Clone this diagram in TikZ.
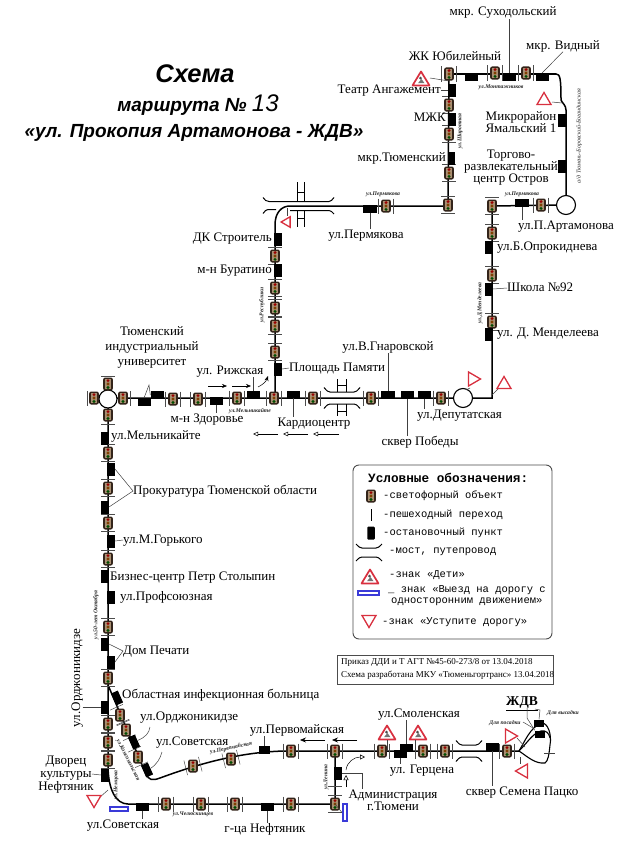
\documentclass[tikz,border=0pt]{standalone}
\usepackage{fontspec}
\setmainfont{Liberation Serif}
\setsansfont{Liberation Sans}
\setmonofont{Liberation Mono}
\usetikzlibrary{arrows.meta}
\definecolor{signred}{HTML}{D8303F}
\definecolor{signblue}{HTML}{3A3AD8}
\definecolor{lampbody}{HTML}{33241A}
\definecolor{lampface}{HTML}{A98F72}
\newcommand{\mybridge}[3]{%
  \draw[line width=1pt] ({#1-#3},{#2-10.5}) .. controls ({#1-#3+3},{#2-7}) and ({#1-#3+4},{#2-6}) .. ({#1-#3+6},{#2-6}) -- ({#1+#3-6},{#2-6}) .. controls ({#1+#3-4},{#2-6}) and ({#1+#3-3},{#2-7}) .. ({#1+#3},{#2-10.5});
  \draw[line width=1pt] ({#1-#3},{#2+10.5}) .. controls ({#1-#3+3},{#2+7}) and ({#1-#3+4},{#2+6}) .. ({#1-#3+6},{#2+6}) -- ({#1+#3-6},{#2+6}) .. controls ({#1+#3-4},{#2+6}) and ({#1+#3-3},{#2+7}) .. ({#1+#3},{#2+10.5});
}
\tikzset{
  x=1pt,y=-1pt,
  route/.style={line width=1.5pt,black},
  leader/.style={line width=0.5pt,black!75},
  lbl/.style={inner sep=0pt,font=\fontsize{13}{14}\selectfont,text height=8.5pt,text depth=2.5pt},
  tiny/.style={inner sep=0pt,font=\fontsize{5.7}{6}\selectfont\bfseries\itshape,text=black!85},
  stopv/.style={fill=black,draw=none,inner sep=0pt,minimum width=7.5pt,minimum height=13pt},
  stoph/.style={fill=black,draw=none,inner sep=0pt,minimum width=13pt,minimum height=7.5pt},
  legtext/.style={inner sep=0pt,anchor=west,font=\ttfamily\fontsize{10.5}{11}\selectfont},
  lampcore/.pic={
    \fill[lampbody,rounded corners=2pt] (-4.8,-6.5) rectangle (4.8,6.5);
    \fill[lampface] (-2.6,-5.4) rectangle (2.6,5.4);
    \fill[red!60!black] (0,-3.4) circle (1.6);
    \fill[orange!50!black] (0,0) circle (1.6);
    \fill[green!30!black] (0,3.4) circle (1.6);
  },
  lampv/.pic={
    \draw[line width=0.5pt,black!70] (-7,-8.5) -- (7,-8.5) (-7,8.5) -- (7,8.5);
    \pic {lampcore};
  },
  lamph/.pic={
    \draw[line width=0.5pt,black!70] (-7.5,-7.5) -- (-7.5,7.5) (7.5,-7.5) -- (7.5,7.5);
    \pic {lampcore};
  },
  yieldtri/.pic={
    \draw[signred,line width=1.3pt,fill=white,line join=miter] (0,-6.5) -- (7,5.5) -- (-7,5.5) -- cycle;
  },
  kidstri/.pic={
    \draw[signred,line width=1.7pt,fill=white,line join=round] (0,-7.5) -- (8.5,6.5) -- (-8.5,6.5) -- cycle;
    \fill[black!70] (-0.5,-0.8) circle (1.5);
    \fill[black!55] (-3,4.2) -- (0.5,0) -- (3.5,4.2) -- cycle;
  },
}
\begin{document}
\begin{tikzpicture}
\useasboundingbox (0,0) rectangle (632,851);
\fill[white] (0,0) rectangle (632,851);

% --- route corner coordinates
\coordinate (a1) at (449,74);
\coordinate (a2) at (556,74);
\coordinate (a3) at (561,100);
\coordinate (a4) at (566,110);
\coordinate (c1) at (566,205);
\coordinate (b1) at (492,206);
\coordinate (b2) at (492,398);
\coordinate (c2) at (463,398);
\coordinate (c3) at (108,398);
\coordinate (d1) at (108,765);
\coordinate (d2) at (128,804);
\coordinate (d3) at (335,804);
\coordinate (d4) at (335,751);
\coordinate (e1) at (108,685);
\coordinate (e2) at (146,774);
\coordinate (e3) at (285,751);
\coordinate (e4) at (519,751);
\coordinate (f1) at (448,206);
\coordinate (f2) at (290,206);
\coordinate (f3) at (275,225);
\coordinate (f4) at (275,398);

% --- bridges
\mybridge{342}{398}{18}
\mybridge{469}{751}{13}
\draw[line width=1pt] (263,197.5) .. controls (265,200) and (266,201.5) .. (269,201.5) -- (329,201.5) .. controls (331,201.5) and (332,200) .. (334,197.5);
\draw[line width=1pt] (263,213.5) .. controls (265,211) and (266,209.5) .. (268,209.5) -- (276,209.5);
\draw[line width=1pt] (290,210.5) -- (329,210.5) .. controls (331,210.5) and (332,212) .. (334,214);
\draw[line width=0.9pt] (297,182) -- (297,201) (304,182) -- (304,201) (297,192) -- (304,192);
\draw[line width=0.9pt] (297,211) -- (297,227) (304,211) -- (304,227) (297,218) -- (304,218);
\draw[line width=0.9pt] (337,379) -- (337,392) (346,379) -- (346,392) (337,385) -- (346,385);
\draw[line width=0.9pt] (337,404) -- (337,416) (346,404) -- (346,416) (337,411) -- (346,411);

% --- routes
\draw[route] (a1) -- (a2) .. controls (560,74) and (561,78) .. (a3) .. controls (562,103) and (566,105) .. (a4) -- (c1);
\draw[route] (c1) -- (b1) -- (b2) -- (c2) -- (c3);
\draw[route] (c3) -- (d1) .. controls (108,790) and (116,804) .. (d2) -- (d3) -- (d4);
\draw[route] (e1) -- (e2) .. controls (149,780) and (152,781) .. (160,778) .. controls (190,767) and (235,752) .. (e3) -- (e4);
\draw[route] (a1) -- (f1) -- (f2) .. controls (282,206) and (275,212) .. (f3) -- (f4);

% --- ЖДВ loop
\coordinate (j1) at (519,751);
\draw[line width=1.1pt] (j1) .. controls (525,741) and (530,728) .. (541,723) .. controls (548,722) and (552,735) .. (550,745) .. controls (549,755) and (548,761) .. (545,763) .. controls (535,764) and (528,757) .. (j1);
\draw[line width=1.1pt] (j1) .. controls (527,743) and (533,733) .. (541,731) .. controls (546,730) and (549,733) .. (550,738);
\draw[leader] (544,753) -- (555,753);
\draw[leader] (517,738) -- (525,747);

% --- roundabouts
\node[circle,draw=black,line width=1.1pt,fill=white,minimum size=19pt,inner sep=0pt] (rb1) at (566,205) {};
\node[circle,draw=black,line width=1.1pt,fill=white,minimum size=19pt,inner sep=0pt] (rb2) at (463,398) {};
\node[circle,draw=black,line width=1.1pt,fill=white,minimum size=18pt,inner sep=0pt] (rb3) at (108,399) {};

% --- traffic lights
\foreach \x/\y in {449/74,495/73,526/73,541/205,386/206,
  173/399,198/399,237/398,274/398,313/398,371/398,441/398,
  166/804,201/804,235/804,291/804,291/751,382/751,423/751,445/751,507/751,335/751}
  {\pic at (\x,\y) {lamph};}
\foreach \x/\y in {449/105,449/134,449/173,448/205,492/206,492/233,492/275,492/322,
  275/256,275/288,275/308,275/326,275/352,
  108/453,108/488,108/523,108/559,108/627,108/678,108/724,108/742,108/760,335/804}
  {\pic at (\x,\y) {lampv};}
\foreach \x/\y in {94/398,123/398,108/384,108/415}
  {\pic at (\x,\y) {lampcore};}
\draw[line width=0.5pt,black!70] (130.5,391) -- (130.5,406) (101,424) -- (115,424) (87,391) -- (87,406) (101,376) -- (115,376);
\foreach \x/\y in {120/715,126/730,138/757}
  {\pic[rotate=24] at (\x,\y) {lampv};}
\foreach \x/\y in {193/766,231/759}
  {\pic[rotate=14] at (\x,\y) {lamph};}

% --- stops, vertical
\foreach \n/\x/\y in {sTeatr/452/90,sMzhk/452/119,sTyum/451.5/158,sYam/562/120,sOstr/562/166,
  sDK/278/239,sBur/278/270,sPam/278/369,sOpr/489/247,sSch/489/289,sMend/489/334,
  sMel/104.5/438,sPr1/111/469,sPr2/105/507,sGor/111/541,sBiz/105/576,sPro/111/597,
  sDP1/105/644,sDP2/111/662,sOrd/104.5/707,sDv/105/775,sAdm/338/773}
  {\node[stopv] (\n) at (\x,\y) {};}
% --- stops, slanted
\node[stopv,rotate=24] (sObl) at (117,698) {};
\node[stopv,rotate=24] (sOr2) at (134,742) {};
\node[stopv,rotate=24] (sSov) at (147,770) {};
% --- stops, horizontal
\node[stoph] (sYub) at (471,77) {};
\node[stoph] (sSuh) at (509,77) {};
\node[stoph] (sVid) at (542,77) {};
\node[stoph,minimum width=14pt] (sArt) at (522,203) {};
\node[stoph,minimum width=14pt] (sPer) at (370,209) {};
\node[stoph,minimum width=14pt] (sGna) at (388,394.5) {};
\node[stoph] (sPob) at (407,395) {};
\node[stoph] (sDep) at (424,395) {};
\node[stoph] (sKar) at (293,394.5) {};
\node[stoph] (sRiz) at (253,395) {};
\node[stoph] (sZdo) at (216,401) {};
\node[stoph] (sUn1) at (144,402) {};
\node[stoph] (sUn2) at (157,395) {};
\node[stoph,minimum width=11pt] (sPrm) at (264,750) {};
\node[stoph] (sSv2) at (142,807) {};
\node[stoph] (sNef) at (267,807) {};
\node[stoph] (sGer) at (400,754) {};
\node[stoph] (sSmo) at (406,747.5) {};
\node[stoph] (sPac) at (492,747) {};
\node[stoph,minimum width=10pt,minimum height=7pt] (sVy) at (539,723) {};
\node[stoph,minimum width=10pt,minimum height=7pt] (sPo) at (540,734) {};

% --- crossing ticks
\draw[line width=0.5pt,black!70] (328,786) -- (342,786);

% --- labels
\node[lbl] (nSuh) at (503,13) {мкр. Суходольский};
\node[lbl] (nVid) at (563,46) {мкр. Видный};
\node[lbl] (nYub) at (455,57) {ЖК Юбилейный};
\node[lbl,anchor=east] (nTea) at (441,90) {Театр Ангажемент};
\node[lbl,anchor=east] (nMzh) at (446,118) {МЖК};
\node[lbl,anchor=east] (nTyu) at (446,158) {мкр.Тюменский};
\node[lbl] (nYa1) at (521,117) {Микрорайон};
\node[lbl] (nYa2) at (521,129) {Ямальский 1};
\node[lbl] (nOs1) at (511,155) {Торгово-};
\node[lbl] (nOs2) at (511,167) {развлекательный};
\node[lbl] (nOs3) at (511,179) {центр Остров};
\node[lbl] (nArt) at (566,226) {ул.П.Артамонова};
\node[lbl,anchor=west] (nOpr) at (497,247) {ул.Б.Опрокиднева};
\node[lbl,anchor=west] (nSch) at (507,288) {Школа №92};
\node[lbl,anchor=west] (nMen) at (497,333) {ул. Д. Менделеева};
\node[lbl,anchor=west] (nDep) at (417,415) {ул.Депутатская};
\node[lbl] (nPob) at (420,442) {сквер Победы};
\node[lbl] (nGna) at (388,347) {ул.В.Гнаровской};
\node[lbl,anchor=west] (nPam) at (289,368) {Площадь Памяти};
\node[lbl] (nKar) at (314,423) {Кардиоцентр};
\node[lbl] (nPer) at (366,235) {ул.Пермякова};
\node[lbl,anchor=east] (nDK) at (272,238) {ДК Строитель};
\node[lbl,anchor=east] (nBur) at (272,270) {м-н Буратино};
\node[lbl] (nRiz) at (230,371) {ул. Рижская};
\node[lbl] (nU1) at (152,332) {Тюменский};
\node[lbl] (nU2) at (152,347) {индустриальный};
\node[lbl] (nU3) at (152,362) {университет};
\node[lbl] (nZdo) at (207,419) {м-н Здоровье};
\node[lbl,anchor=west] (nMel) at (111,436) {ул.Мельникайте};
\node[lbl,anchor=west] (nPro) at (133,491) {Прокуратура Тюменской области};
\node[lbl,anchor=west] (nGor) at (123,540) {ул.М.Горького};
\node[lbl,anchor=west] (nBiz) at (110,577) {Бизнес-центр Петр Столыпин};
\node[lbl,anchor=west] (nPrf) at (120,597) {ул.Профсоюзная};
\node[lbl,anchor=west] (nDom) at (123,651) {Дом Печати};
\node[lbl,anchor=west] (nObl) at (122,695) {Областная инфекционная больница};
\node[lbl,rotate=90] (nOr1) at (77,678) {ул.Орджоникидзе};
\node[lbl,anchor=west] (nOr2) at (140,717) {ул.Орджоникидзе};
\node[lbl,anchor=west] (nSov) at (156,742) {ул.Советская};
\node[lbl] (nPrm) at (297,730) {ул.Первомайская};
\node[lbl] (nDv1) at (66,761) {Дворец};
\node[lbl] (nDv2) at (66,774) {культуры};
\node[lbl] (nDv3) at (66,787) {Нефтяник};
\node[lbl] (nSv2) at (123,825) {ул.Советская};
\node[lbl] (nNef) at (265,829) {г-ца Нефтяник};
\node[lbl] (nAd1) at (393,795) {Администрация};
\node[lbl] (nAd2) at (393,807) {г.Тюмени};
\node[lbl] (nSmo) at (419,714) {ул.Смоленская};
\node[lbl] (nGer) at (422,770) {ул. Герцена};
\node[lbl] (nPac) at (522,792) {сквер Семена Пацко};
\node[inner sep=0pt,font=\fontsize{13.5}{14}\selectfont\bfseries] (nZh) at (522,704) {\underline{ЖДВ}};
\node[tiny] (nPos) at (505,723) {Для посадки};
\node[tiny] (nVys) at (563,713) {Для высадки};

% --- street names
\node[tiny] (tMon) at (501,87) {ул.Монтажников};
\node[tiny] (tPe1) at (522,194) {ул.Пермякова};
\node[tiny] (tPe2) at (383,194) {ул.Пермякова};
\node[tiny] (tMl2) at (250,411) {ул.Мельникайте};
\node[tiny] (tChe) at (193,814) {ул.Челюскинцев};
\node[tiny,rotate=12] (tPmk) at (231,748) {ул.Первомайская};
\node[tiny,rotate=90] (tShi) at (460,131) {ул.Широтная};
\node[tiny,rotate=90,font=\fontsize{6}{6}\selectfont\itshape] (tBog) at (579,136) {а/д Тюмень-Боровский-Богандинская};
\node[tiny,rotate=90] (tMnd) at (480,303) {ул.Д.Менделеева};
\node[tiny,rotate=90] (tRes) at (262,305) {ул.Республики};
\node[tiny,rotate=90] (t50) at (96,615) {ул.50-лет Октября};
\node[tiny,rotate=90] (tNem) at (116,785) {ул.Немцова};
\node[tiny,rotate=90] (tLen) at (326,777) {ул.Ленина};
\node[tiny,rotate=-63] (tKom) at (128,760) {ул.Комсомольская};

% --- leaders
\draw[leader] (sSuh.north) -- (sSuh.north |- nSuh.south);
\draw[leader] (sVid.north) -- (nVid.south);
\draw[leader] (nTea.east) -- (sTeatr.west);
\draw[leader] (sArt.south) -- (sArt.south |- nArt.north);
\draw[leader] (sSch.east) -- (nSch.west);
\draw[leader] (sGna.north) -- (sGna.north |- nGna.south);
\draw[leader] (sPob.south) -- (sPob.south |- nPob.north);
\draw[leader] (sDep.south) -- (sDep.south |- nDep.north);
\draw[leader] (sPam.east) -- (nPam.west);
\draw[leader] (sKar.south) -- (sKar.south |- nKar.north);
\draw[leader] (sPer.south) -- (sPer.south |- nPer.north);
\draw[leader] (sRiz.north) -- (sRiz.north |- nRiz.south);
\draw[leader] (sZdo.south) -- (sZdo.south |- nZdo.north);
\coordinate (uApex) at (149,385);
\draw[leader] (sUn1.north) -- (uApex) -- (sUn2.west);
\draw[leader] (sPr1.east) -- (nPro.west) -- (sPr2.east);
\draw[leader] (sGor.east) -- (nGor.west);
\draw[leader] (sDP1.east) -- (nDom.west) -- (sDP2.east);
\draw[leader] (nOr1.south |- sOrd) -- (sOrd.west);
\draw[leader] (150,727) .. controls (149,733) and (146,737) .. (sOr2.east);
\draw[leader] (162,752) .. controls (160,759) and (157,764) .. (sSov.east);
\draw[leader] (sPrm.north) -- (sPrm.north |- nPrm.south);
\draw[leader] (nDv2.east) -- (sDv.west);
\draw[leader] (sSv2.south) -- (sSv2.south |- nSv2.north);
\draw[leader] (sNef.south) -- (sNef.south |- nNef.north);
\draw[leader] (sSmo.north) -- (sSmo.north |- nSmo.south);
\draw[leader] (sGer.south) -- (sGer.south |- nGer.north);
\draw[leader] (sPac.south) -- (sPac.south |- nPac.north);
\coordinate (admKnee) at (362,773);
\draw[leader] (sAdm.east) -- (admKnee) -- (admKnee |- nAd1.north);
\draw[leader] (527,708) -- (527,718) -- (sPo.north west);
\draw[leader] (535,709) -- (540,710) -- (sVy.north);
\draw[leader] (523,722) -- (533,728);

% --- direction arrows
\draw[-{Stealth[length=5pt,width=4pt]},line width=0.5pt] (208,386) -- (227,386);
\draw[-{Stealth[length=5pt,width=4pt]},line width=0.5pt] (232,386) -- (251,386);
\draw[-{Stealth[length=5pt,width=4pt]},line width=0.5pt] (258,387) .. controls (262,385) and (266,382) .. (268,376);
\draw[-{Stealth[length=6pt,width=5pt]},line width=0.7pt] (325,740) -- (300,740);
\draw[-{Stealth[length=6pt,width=5pt]},line width=0.7pt] (357,740) -- (332,740);
\foreach \p/\q in {278/253,308/283,339/313}
  {\draw[-{Triangle[open,length=5pt,width=4.5pt]},line width=0.5pt] (\p,434) -- (\q,434);}
\draw[-{Triangle[open,length=5pt,width=5pt]},line width=0.5pt] (346,787) -- (346,775);
\draw[-{Triangle[open,length=5pt,width=5pt]},line width=0.5pt] (346,770) .. controls (347,762) and (354,757) .. (365,757);

% --- signs
\draw[leader] (430,78) -- (449,81);
\pic at (421,79) {kidstri};
\draw[leader] (552,102) -- (562,103);
\pic at (544,99) {yieldtri};
\draw[leader] (287,208) -- (287,216);
\pic[rotate=90,scale=0.75] at (286,222) {yieldtri};
\draw[leader] (470,388) -- (466,390);
\pic[rotate=-90] at (474,379) {yieldtri};
\draw[leader] (492,395) -- (499,388);
\pic at (504,383) {yieldtri};
\draw[leader] (99,798) -- (108,790);
\pic[rotate=180] at (94,801) {yieldtri};
\pic at (387,733) {kidstri};
\pic at (418,733) {kidstri};
\draw[leader] (387,740) -- (387,751);
\draw[leader] (415,740) -- (415,751);
\pic[rotate=-90] at (511,736) {yieldtri};
\pic[rotate=90] at (522,771) {yieldtri};
\draw[leader] (520,757) -- (520,764);
\draw[leader] (335,804) -- (344,815);
\draw[signblue,line width=1.1pt,fill=white] (110,807) rectangle (128,811);
\draw[signblue,line width=1.1pt,fill=white] (343,804) -- (347,804) -- (347,821) -- (343,821) -- cycle;

% --- title
\node[inner sep=0pt,font=\sffamily\bfseries\itshape\fontsize{25.5}{27}\selectfont] (t1) at (195,74) {Схема};
\node[inner sep=0pt,font=\sffamily\bfseries\itshape\fontsize{19}{21}\selectfont] (t2) at (198,105) {маршрута № {\fontsize{24}{26}\selectfont\mdseries 13}};
\node[inner sep=0pt,font=\sffamily\bfseries\itshape\fontsize{19}{21}\selectfont] (t3) at (194,133) {«ул. Прокопия Артамонова - ЖДВ»};

% --- legend
\draw[black!70,line width=0.9pt,rounded corners=6pt] (353,465) rectangle (552,639);
\node[legtext,font=\ttfamily\bfseries\fontsize{12.7}{13}\selectfont] (g0) at (368,478) {Условные обозначения:};
\pic at (371,496) {lampcore};
\node[legtext] (g1) at (383,496) {-светофорный объект};
\draw[line width=1pt] (371,509) -- (371,521);
\node[legtext] (g2) at (383,515) {-пешеходный переход};
\node[stopv,rounded corners=1pt] (gs) at (371,533) {};
\node[legtext] (g3) at (383,533) {-остановочный пункт};
\draw[line width=1pt] (356,544) .. controls (359,547) and (360,548) .. (362,548) -- (376,548) .. controls (378,548) and (379,547) .. (382,544);
\draw[line width=1pt] (356,561) .. controls (359,558) and (360,557) .. (362,557) -- (376,557) .. controls (378,557) and (379,558) .. (382,561);
\node[legtext] (g4) at (389,552) {-мост, путепровод};
\pic at (370,577) {kidstri};
\node[legtext] (g5) at (389,575) {-знак «Дети»};
\draw[signblue,line width=1.1pt] (358,591) rectangle (379,595);
\node[legtext] (g6a) at (388,590) {\_ знак «Выезд на дорогу с};
\node[legtext] (g6b) at (391,602) {односторонним движением»};
\pic[rotate=180] at (369,621) {yieldtri};
\node[legtext] (g7) at (382,622) {-знак «Уступите дорогу»};

% --- order box
\draw[black!70,line width=0.7pt] (337,655) rectangle (553,684);
\node[inner sep=0pt,anchor=west,font=\fontsize{9}{10}\selectfont] (o1) at (341,662) {Приказ ДДИ и Т АГТ №45-60-273/8 от 13.04.2018};
\node[inner sep=0pt,anchor=west,font=\fontsize{9}{10}\selectfont] (o2) at (341,675) {Схема разработана МКУ «Тюменьгортранс» 13.04.2018};
\end{tikzpicture}
\end{document}
